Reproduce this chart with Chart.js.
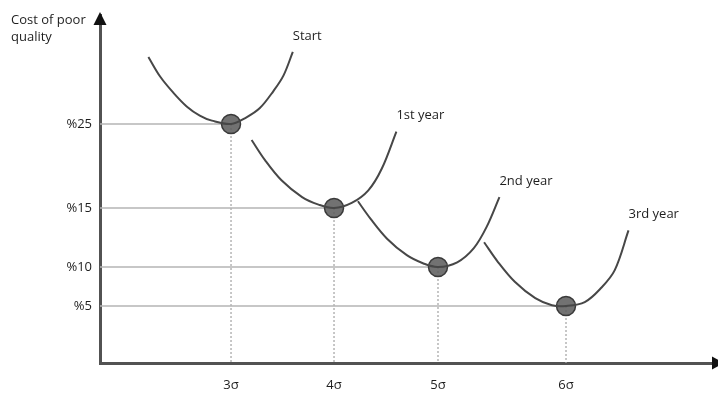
<!DOCTYPE html>
<html>
<head>
<meta charset="utf-8">
<script src="https://cdn.jsdelivr.net/npm/chart.js@4/dist/chart.umd.min.js"></script>
<style>
  html, body { margin: 0; padding: 0; background: #ffffff; overflow: hidden; }
  #wrap { width: 718px; height: 397px; }
  canvas { display: block; }
</style>
</head>
<body>
<div id="wrap"><canvas id="chart" width="718" height="397"></canvas></div>
<script>
// Sigma levels on the horizontal axis and their labels
const sigmaTicks = [3, 4, 5, 6];
const sigmaTickLabels = ['3σ', '4σ', '5σ', '6σ'];

// Cost of poor quality levels on the vertical axis and their labels
const costTicks = [25, 15, 10, 5];
const costTickLabels = ['%25', '%15', '%10', '%5'];

// Optimum point of each period (sigma level, cost %)
const curveNames = ['Start', '1st year', '2nd year', '3rd year'];
const optimumSigma = [3, 4, 5, 6];
const optimumCost = [25, 15, 10, 5];

// Cost curves for each period
const startSigma = [2.18, 2.30, 2.43, 2.56, 2.69, 2.81, 3, 3.15, 3.28, 3.41, 3.51, 3.60];
const startCost  = [33.0, 30.6, 28.7, 27.1, 26.0, 25.4, 25, 25.8, 26.9, 28.9, 30.8, 33.6];
const year1Sigma = [3.20, 3.33, 3.49, 3.69, 3.85, 4, 4.17, 4.33, 4.46, 4.60];
const year1Cost  = [23.1, 20.7, 18.3, 16.3, 15.4, 15, 15.6, 17.1, 19.7, 24.1];
const year2Sigma = [4.23, 4.35, 4.51, 4.70, 4.86, 5, 5.15, 5.28, 5.38, 5.48];
const year2Cost  = [15.8, 14.1, 12.4, 11.0, 10.3, 10, 10.4, 11.6, 13.4, 16.3];
const year3Sigma = [5.36, 5.47, 5.60, 5.76, 5.89, 6, 6.15, 6.28, 6.39, 6.50];
const year3Cost  = [12.1, 10.4, 8.1, 6.0, 5.1, 5, 5.5, 7.3, 9.6, 13.1];

// Schematic axes: each axis is piecewise linear between [value, fraction of axis length] stops
const scaleStops = {
  x: [[1.7, 0], [3, 0.2127], [4, 0.3799], [5, 0.5487], [6, 0.7565], [7.2, 1]],
  y: [[0, 0], [5, 0.1638], [10, 0.2759], [15, 0.4454], [25, 0.6868], [38, 1]]
};

class PiecewiseScale extends Chart.LinearScale {
  _stops() { return scaleStops[this.id]; }
  _toDecimal(value) {
    const s = this._stops();
    for (let i = 1; i < s.length; i++) {
      if (value <= s[i][0] || i === s.length - 1) {
        const [v0, p0] = s[i - 1], [v1, p1] = s[i];
        return p0 + (value - v0) / (v1 - v0) * (p1 - p0);
      }
    }
    return 0;
  }
  getPixelForValue(value) {
    return this.getPixelForDecimal(this._toDecimal(value));
  }
  getValueForPixel(pixel) {
    const d = this.getDecimalForPixel(pixel);
    const s = this._stops();
    for (let i = 1; i < s.length; i++) {
      if (d <= s[i][1] || i === s.length - 1) {
        const [v0, p0] = s[i - 1], [v1, p1] = s[i];
        return v0 + (d - p0) / (p1 - p0) * (v1 - v0);
      }
    }
    return s[0][0];
  }
}
PiecewiseScale.id = 'piecewise';
PiecewiseScale.defaults = Chart.LinearScale.defaults;
Chart.register(PiecewiseScale);

const toPoints = (xs, ys) => xs.map((x, i) => ({ x, y: ys[i] }));
const xMin = scaleStops.x[0][0];
const yMin = scaleStops.y[0][0];

const curveSets = [
  toPoints(startSigma, startCost),
  toPoints(year1Sigma, year1Cost),
  toPoints(year2Sigma, year2Cost),
  toPoints(year3Sigma, year3Cost)
];

const curveDatasets = curveSets.map((pts, i) => ({
  type: 'line',
  label: curveNames[i],
  data: pts,
  borderColor: '#474747',
  borderWidth: 2,
  pointRadius: 0,
  fill: false,
  tension: 0.35,
  order: 1
}));

const optimumPoints = toPoints(optimumSigma, optimumCost);

const dotDataset = {
  type: 'scatter',
  label: 'optimum',
  data: optimumPoints,
  pointRadius: 9.5,
  pointBackgroundColor: 'rgba(95,95,95,0.88)',
  pointBorderColor: '#3a3a3a',
  pointBorderWidth: 1.5,
  order: 2
};

// Reference lines from the axes to each optimum point
const levelLines = optimumPoints.map(p => ({
  type: 'line',
  data: [{ x: xMin, y: p.y }, { x: p.x, y: p.y }],
  borderColor: '#b4b4b4',
  borderWidth: 1.5,
  pointRadius: 0,
  order: 5
}));
const dropLines = optimumPoints.map(p => ({
  type: 'line',
  data: [{ x: p.x, y: p.y }, { x: p.x, y: yMin }],
  borderColor: '#a9a9a9',
  borderWidth: 1.3,
  borderDash: [2, 2],
  pointRadius: 0,
  order: 5
}));

const decorations = {
  id: 'decorations',
  afterDatasetsDraw(chart) {
    const ctx = chart.ctx;
    const area = chart.chartArea;
    ctx.save();
    ctx.font = '13px "Open Sans"';
    ctx.fillStyle = '#1e1e1e';
    ctx.textAlign = 'left';
    ctx.textBaseline = 'middle';
    // period names next to the upper end of each curve
    curveDatasets.forEach((ds, i) => {
      const meta = chart.getDatasetMeta(chart.data.datasets.indexOf(ds));
      const last = meta.data[meta.data.length - 1];
      ctx.fillText(curveNames[i], last.x, last.y - 16);
    });
    // vertical axis title
    ctx.fillText('Cost of poor', 11, 20);
    ctx.fillText('quality', 11, 37);
    // arrow heads
    ctx.fillStyle = '#111';
    const yAxisX = area.left;
    ctx.beginPath();
    ctx.moveTo(yAxisX, 12);
    ctx.lineTo(yAxisX - 6.5, 25);
    ctx.lineTo(yAxisX + 6.5, 25);
    ctx.closePath();
    ctx.fill();
    const xAxisY = area.bottom;
    ctx.beginPath();
    ctx.moveTo(area.right + 8, xAxisY);
    ctx.lineTo(area.right - 4, xAxisY - 6.5);
    ctx.lineTo(area.right - 4, xAxisY + 6.5);
    ctx.closePath();
    ctx.fill();
    ctx.restore();
  }
};

Chart.defaults.font.family = '"Open Sans", sans-serif';
Chart.defaults.font.size = 13;
Chart.defaults.color = '#1e1e1e';

new Chart(document.getElementById('chart'), {
  type: 'line',
  data: {
    datasets: [dotDataset, ...curveDatasets, ...levelLines, ...dropLines]
  },
  options: {
    responsive: false,
    animation: false,
    events: [],
    layout: { autoPadding: false, padding: { top: 15, right: 2, left: 0, bottom: 0 } },
    plugins: {
      legend: { display: false },
      tooltip: { enabled: false },
      title: { display: false }
    },
    scales: {
      x: {
        type: 'piecewise',
        min: scaleStops.x[0][0],
        max: scaleStops.x[scaleStops.x.length - 1][0],
        afterBuildTicks: (scale) => { scale.ticks = sigmaTicks.map(v => ({ value: v })); },
        afterFit: (scale) => { scale.height = 34; scale.paddingLeft = 0; scale.paddingRight = 0; },
        ticks: {
          padding: 14,
          maxRotation: 0,
          autoSkip: false,
          callback: (v) => sigmaTickLabels[sigmaTicks.indexOf(v)]
        },
        grid: { display: false, drawTicks: false },
        border: { display: true, color: '#525252', width: 3 }
      },
      y: {
        type: 'piecewise',
        min: scaleStops.y[0][0],
        max: scaleStops.y[scaleStops.y.length - 1][0],
        afterBuildTicks: (scale) => { scale.ticks = costTicks.slice().sort((a, b) => a - b).map(v => ({ value: v })); },
        afterFit: (scale) => { scale.width = 100; scale.paddingTop = 0; scale.paddingBottom = 0; },
        ticks: {
          padding: 8,
          autoSkip: false,
          callback: (v) => costTickLabels[costTicks.indexOf(v)]
        },
        grid: { display: false, drawTicks: false },
        border: { display: true, color: '#525252', width: 3 }
      }
    }
  },
  plugins: [decorations]
});
</script>
</body>
</html>
